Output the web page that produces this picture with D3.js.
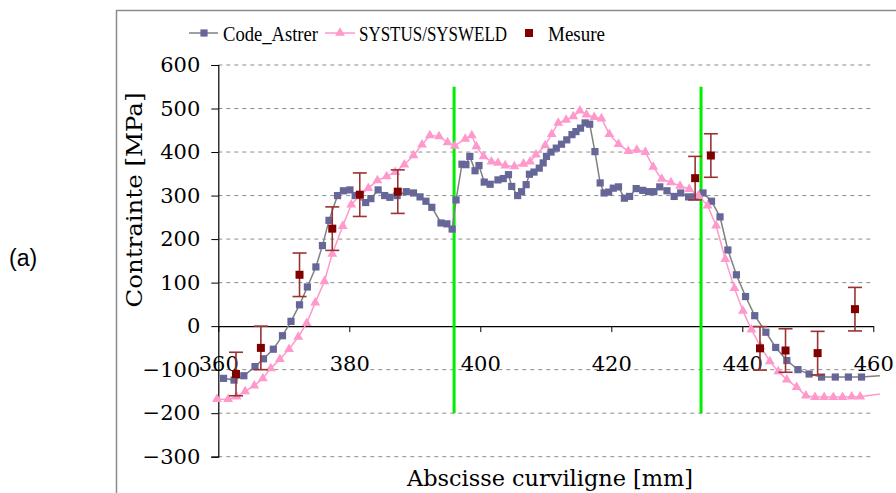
<!DOCTYPE html>
<html><head><meta charset="utf-8">
<script src="https://cdn.jsdelivr.net/npm/d3@7"></script>
<style>body{margin:0;background:#fff}svg{display:block}</style>
</head><body>
<svg id="chart" width="896" height="493"></svg>
<script>
// ---- data ----
const astrerX = [360.8,362.4,363.9,365.6,366.9,368.4,369.8,371.1,372.4,373.6,374.9,375.9,376.9,378.2,379.1,380.1,380.9,382.5,383.3,384.4,385.4,386.2,387.3,388.7,389.8,390.8,391.7,392.6,394.0,394.9,395.7,396.3,397.2,397.8,398.4,399.2,399.8,400.6,401.5,402.7,403.5,404.3,404.8,405.7,406.3,407.0,407.5,408.2,409.0,409.6,410.1,410.8,411.6,412.4,413.2,414.0,414.6,415.3,416.0,416.7,417.5,418.3,418.9,419.6,420.3,421.1,422.0,422.8,423.8,424.8,425.7,426.5,427.4,428.5,429.6,430.6,431.8,432.8,434.0,435.3,436.6,437.8,439.1,440.5,441.9,443.6,445.1,446.8,448.5,450.2,452.1,454.2,456.2,458.2,461.0];
const astrerY = [-120,-124,-114,-93,-75,-53,-22,11,49,90,136,185,243,300,311,313,300,284,293,313,300,296,300,309,306,297,287,273,237,235,223,290,372,371,390,357,369,331,326,336,339,348,321,300,309,325,349,354,363,375,390,400,409,418,428,440,447,455,467,464,401,329,306,308,317,320,294,298,316,312,309,309,320,311,298,306,297,297,306,287,251,175,118,68,24,-14,-49,-79,-100,-110,-117,-117,-117,-117,-114];
const systusX = [359.8,361.5,362.8,364.1,365.5,366.8,368.0,369.4,370.8,372.2,373.5,374.8,376.2,377.4,379.0,380.3,381.6,382.9,384.3,385.7,387.0,388.4,389.8,391.1,392.3,393.7,395.0,396.1,397.7,398.7,399.4,400.5,401.7,402.7,403.8,405.2,406.6,407.6,408.5,409.9,410.9,411.9,413.1,414.2,415.2,416.2,417.4,418.5,419.7,421.1,422.6,423.9,425.2,426.4,427.7,429.1,430.5,431.9,433.3,434.7,436.0,437.4,438.8,440.1,441.4,442.8,444.2,445.5,446.8,448.3,449.7,451.1,452.5,453.9,455.3,456.7,458.0,461.0];
const systusY = [-168,-168,-162,-150,-137,-120,-97,-76,-53,-25,7,54,103,166,230,279,300,317,335,344,354,371,392,417,438,436,422,414,430,438,413,390,378,375,369,367,373,378,394,415,441,467,474,482,495,486,480,477,441,418,402,405,400,366,338,330,322,315,300,277,231,154,87,35,-8,-47,-81,-104,-123,-140,-160,-163,-163,-163,-163,-162,-162,-156];
const mesureX = [362.7,366.5,372.4,377.4,381.6,387.4,432.8,435.2,442.7,446.6,451.5,457.2];
const mesureY = [-110,-50,118,224,302,309,340,392,-51,-56,-62,39];
const mesureErr = [50,50,50,50,50,50,50,50,50,50,50,50];
const markerLines = [396.0, 433.7];
const markerRange = [-200, 550];
const xTicks = [360,380,400,420,440,460];
const yTicks = [600,500,400,300,200,100,0,-100,-200,-300];
const seriesNames = ["Code_Astrer","SYSTUS/SYSWELD","Mesure"];

// ---- layout ----
const svg = d3.select("#chart");
const x = d3.scaleLinear().domain([360,460]).range([218.3,873.3]);
const y = d3.scaleLinear().domain([-300,600]).range([456.7,65]);
const serif = "'DejaVu Serif', serif";
const cBlue = "#666699", cGrey = "#808080", cPink = "#ff99cc", cRed = "#800000", cErr = "#993333";

// frame
svg.append("rect").attr("x",116.5).attr("y",10.5).attr("width",800).attr("height",500)
  .attr("fill","none").attr("stroke","#8c8c8c").attr("stroke-width",1.5);

// gridlines
svg.append("g").selectAll("line").data(yTicks.filter(d=>d!==0)).join("line")
  .attr("x1",x(360)).attr("x2",x(460)).attr("y1",d=>y(d)).attr("y2",d=>y(d))
  .attr("stroke","#8c8c8c").attr("stroke-dasharray","4,4").attr("stroke-width",1);

// y axis
const yAxis = svg.append("g").attr("transform",`translate(${x(360)},0)`)
  .call(d3.axisLeft(y).tickValues(yTicks).tickSize(7).tickPadding(11).tickFormat(d3.format("d")));
yAxis.select(".domain").attr("stroke","#000").attr("stroke-width",1.2);
yAxis.selectAll(".tick line").attr("stroke","#000");
yAxis.selectAll("text").attr("font-family",serif).attr("font-size",21).attr("fill","#000");

// x axis at y=0
const xAxis = svg.append("g").attr("transform",`translate(0,${y(0)})`)
  .call(d3.axisBottom(x).tickValues(xTicks).tickSize(6).tickSizeOuter(0).tickPadding(24));
xAxis.select(".domain").attr("stroke","#000").attr("stroke-width",1.2);
xAxis.selectAll(".tick line").attr("stroke","#000");
xAxis.selectAll("text").attr("font-family",serif).attr("font-size",21).attr("fill","#000");

// axis titles
svg.append("text").attr("transform","translate(142,200) rotate(-90)").attr("text-anchor","middle")
  .attr("font-family",serif).attr("font-size",22).attr("textLength",215).attr("lengthAdjust","spacingAndGlyphs")
  .text("Contrainte [MPa]");
svg.append("text").attr("x",550).attr("y",486).attr("text-anchor","middle")
  .attr("font-family",serif).attr("font-size",22).attr("textLength",286).attr("lengthAdjust","spacingAndGlyphs")
  .text("Abscisse curviligne [mm]");
svg.append("text").attr("x",9).attr("y",266).attr("font-family","'Liberation Sans', Arial, sans-serif")
  .attr("font-size",23).text("(a)");

// green vertical lines
svg.append("g").selectAll("line").data(markerLines).join("line")
  .attr("x1",d=>x(d)).attr("x2",d=>x(d)).attr("y1",y(markerRange[0])).attr("y2",y(markerRange[1]))
  .attr("stroke","#00ee00").attr("stroke-width",3);

const line = d3.line().x(d=>x(d[0])).y(d=>y(d[1]));
const astrer = astrerX.map((v,i)=>[v,astrerY[i]]);
const systus = systusX.map((v,i)=>[v,systusY[i]]);
const inDomain = d => d[0] <= 460;

// Code_Astrer
svg.append("path").datum(astrer).attr("d",line).attr("fill","none").attr("stroke",cGrey).attr("stroke-width",1.5);
svg.append("g").selectAll("rect").data(astrer.filter(inDomain)).join("rect")
  .attr("x",d=>x(d[0])-3.6).attr("y",d=>y(d[1])-3.6).attr("width",7.2).attr("height",7.2).attr("fill",cBlue);

// SYSTUS
const tri = d3.symbol().type(d3.symbolTriangle).size(42);
svg.append("path").datum(systus).attr("d",line).attr("fill","none").attr("stroke",cPink).attr("stroke-width",1.5);
svg.append("g").selectAll("path").data(systus.filter(inDomain)).join("path")
  .attr("d",tri).attr("transform",d=>`translate(${x(d[0])},${y(d[1])})`).attr("fill",cPink);

// Mesure with error bars
const mes = mesureX.map((v,i)=>({x:v,y:mesureY[i],e:mesureErr[i]}));
const eb = svg.append("g").attr("stroke",cErr).attr("stroke-width",1.6);
mes.forEach(d=>{
  eb.append("line").attr("x1",x(d.x)).attr("x2",x(d.x)).attr("y1",y(d.y-d.e)).attr("y2",y(d.y+d.e));
  eb.append("line").attr("x1",x(d.x)-7).attr("x2",x(d.x)+7).attr("y1",y(d.y-d.e)).attr("y2",y(d.y-d.e));
  eb.append("line").attr("x1",x(d.x)-7).attr("x2",x(d.x)+7).attr("y1",y(d.y+d.e)).attr("y2",y(d.y+d.e));
});
svg.append("g").selectAll("rect").data(mes).join("rect")
  .attr("x",d=>x(d.x)-4).attr("y",d=>y(d.y)-4).attr("width",8).attr("height",8).attr("fill",cRed);

// legend
const lg = svg.append("g");
const ly = 33;
lg.append("line").attr("x1",189).attr("x2",218).attr("y1",ly).attr("y2",ly).attr("stroke",cGrey).attr("stroke-width",1.5);
lg.append("rect").attr("x",204-3.6).attr("y",ly-3.6).attr("width",7.2).attr("height",7.2).attr("fill",cBlue);
lg.append("line").attr("x1",325).attr("x2",355).attr("y1",ly).attr("y2",ly).attr("stroke",cPink).attr("stroke-width",1.5);
lg.append("path").attr("d",tri).attr("transform",`translate(340,${ly})`).attr("fill",cPink);
lg.append("rect").attr("x",529-4).attr("y",ly-4).attr("width",8).attr("height",8).attr("fill",cRed);
const legTxt = [[223,95],[359,148],[548,57]];
seriesNames.forEach((n,i)=>{
  lg.append("text").attr("x",legTxt[i][0]).attr("y",41).attr("font-family","'Liberation Serif', serif")
    .attr("font-size",20).attr("textLength",legTxt[i][1]).attr("lengthAdjust","spacingAndGlyphs").text(n);
});
</script>
</body></html>
